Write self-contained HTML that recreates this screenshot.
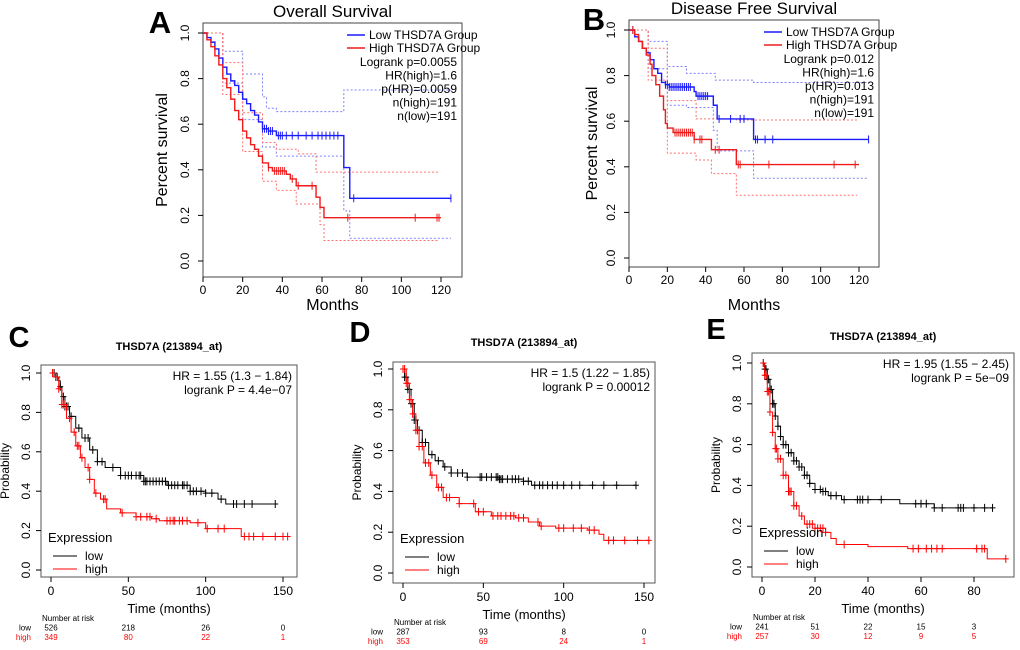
<!DOCTYPE html>
<html><head><meta charset="utf-8"><style>
body{margin:0;background:#fff}
svg{display:block;font-family:"Liberation Sans",Arial,sans-serif}
</style></head><body>
<svg id="fig" width="1020" height="650" viewBox="0 0 1020 650"></svg>
<script>
// ---------- DATA ----------
// Panel A (Overall Survival)
const aLowT=[0,2,4,6,8,10,12,14,16,18,20,22,24,26,28,30,33,37,71,74,125];
const aLowS=[1,0.98,0.96,0.93,0.89,0.85,0.82,0.79,0.77,0.74,0.71,0.69,0.66,0.64,0.61,0.58,0.57,0.55,0.41,0.275,0.275];
const aHighT=[0,2,4,6,8,10,12,14,16,18,20,22,24,26,28,30,33,35,42,44,47,57,59,61,120];
const aHighS=[1,0.97,0.94,0.9,0.86,0.8,0.76,0.71,0.66,0.62,0.57,0.54,0.51,0.49,0.46,0.43,0.41,0.395,0.38,0.36,0.33,0.28,0.235,0.19,0.19];
const aLowUpT=[0,10,20,30,32,37,71,125], aLowUpS=[1,0.92,0.82,0.72,0.67,0.655,0.75,0.745];
const aLowLoT=[0,10,20,30,37,71,74,125], aLowLoS=[1,0.78,0.62,0.5,0.46,0.22,0.1,0.1];
const aHighUpT=[0,10,20,30,37,48,57,119], aHighUpS=[1,0.87,0.65,0.52,0.49,0.47,0.39,0.39];
const aHighLoT=[0,10,20,30,37,47,59,61,119], aHighLoS=[1,0.73,0.48,0.35,0.31,0.25,0.16,0.09,0.09];
const aLowCens=[30,31,32,33,34,35,38,39,40,42,45,48,52,55,58,60,62,64,66,68,76,125];
const aHighCens=[33,36,37,38,39,40,41,45,48,55,73,107,118,119];
// Panel B (Disease Free Survival)
const bLowT=[0,3,5,7,9,11,13,15,17,19,21,34,35,44,46,65,125];
const bLowS=[1,0.97,0.95,0.92,0.9,0.87,0.83,0.81,0.77,0.76,0.75,0.73,0.71,0.67,0.61,0.52,0.52];
const bHighT=[0,3,5,7,9,11,12,14,16,18,19,20,23,34,43,56,120];
const bHighS=[1,0.98,0.95,0.92,0.89,0.85,0.8,0.76,0.71,0.65,0.59,0.57,0.55,0.52,0.475,0.41,0.41];
const bLowUpT=[0,10,20,30,45,65,125], bLowUpS=[1,0.95,0.84,0.81,0.78,0.77,0.77];
const bLowLoT=[0,10,20,30,44,46,65,125], bLowLoS=[1,0.83,0.67,0.66,0.56,0.47,0.35,0.35];
const bHighUpT=[0,10,20,35,56,119], bHighUpS=[1,0.92,0.69,0.61,0.605,0.605];
const bHighLoT=[0,10,20,35,43,56,119], bHighLoS=[1,0.78,0.46,0.43,0.37,0.275,0.275];
const bLowCens=[2,19,20,21,22,23,24,25,26,27,28,29,30,31,32,36,37,38,39,40,41,47,53,58,60,66,67,71,75,125];
const bHighCens=[2,24,25,26,27,28,29,30,31,32,33,34,37,38,45,47,57,58,73,107,118];
// Panel C
const cLowT=[0,3,5,6,7,9,12,16,20,25,30,35,45,60,75,90,100,108,113,145];
const cLowS=[1,0.98,0.96,0.93,0.88,0.83,0.78,0.72,0.67,0.61,0.55,0.52,0.48,0.45,0.43,0.4,0.39,0.36,0.335,0.335];
const cHighT=[0,3,5,7,10,13,16,19,22,25,28,32,36,45,55,65,70,90,100,123,153];
const cHighS=[1,0.98,0.92,0.84,0.77,0.7,0.63,0.57,0.52,0.46,0.39,0.36,0.31,0.29,0.27,0.26,0.25,0.24,0.21,0.17,0.17];
const cLowCens=[2,4,6,8,9,10,11,13,18,22,24,27,30,33,40,45,48,50,52,55,57,58,60,61,62,64,66,68,70,72,74,76,78,80,82,85,86,88,90,92,94,97,100,104,110,118,120,125,130,145];
const cHighCens=[1,3,5,7,8,9,12,15,17,18,20,24,25,29,34,35,46,55,58,62,64,68,75,77,79,80,83,85,88,95,101,108,112,125,128,131,137,145,150,153];
// Panel D
const dLowT=[0,1,3,5,7,9,12,16,20,25,30,40,60,75,80,145];
const dLowS=[1,0.96,0.9,0.83,0.75,0.7,0.64,0.58,0.55,0.52,0.49,0.47,0.46,0.45,0.43,0.43];
const dHighT=[0,2,4,6,8,10,13,17,21,25,35,45,55,70,78,85,95,115,122,125,153];
const dHighS=[1,0.93,0.85,0.78,0.7,0.62,0.54,0.48,0.42,0.37,0.34,0.3,0.28,0.27,0.25,0.23,0.22,0.21,0.19,0.16,0.16];
const dLowCens=[1,2,3,4,5,6,7,8,9,10,12,14,18,22,26,30,34,37,40,48,49,52,55,58,59,60,61,62,65,68,70,72,75,78,82,85,87,90,93,96,100,105,110,118,125,133,145];
const dHighCens=[0,1,2,3,4,5,6,8,9,10,12,14,16,18,22,24,27,29,35,44,47,50,56,59,61,64,67,69,72,75,84,86,97,100,106,111,116,119,128,131,138,146,153];
// Panel E
const eLowT=[0,1,2,3,4,5,6,7,8,10,12,14,16,18,20,23,25,30,50,52,65,87];
const eLowS=[1,0.97,0.92,0.87,0.8,0.74,0.69,0.64,0.6,0.56,0.52,0.49,0.45,0.41,0.38,0.37,0.35,0.33,0.33,0.31,0.29,0.29];
const eHighT=[0,1,2,3,4,5,6,8,10,12,14,16,20,24,26,28,40,55,84,85,92];
const eHighS=[1,0.94,0.86,0.76,0.66,0.58,0.53,0.45,0.37,0.3,0.25,0.21,0.19,0.17,0.14,0.11,0.1,0.09,0.09,0.04,0.04];
const eLowCens=[0.5,1,1.5,2,2.5,3,3.5,4,4.5,5,6,7,8,9,10,11,12,13,14,15,16,17,18,20,22,23,24,26,28,31,36,37,38,40,45,58,60,62,65,68,74,75,76,80,84,87];
const eHighCens=[0.5,1,1.5,2,2.5,3,4,5,5.5,6,7,8,9,10,10.5,11,12,13,15,17,18,19,20,21,22,23,24,31,57,59,62,64,66,68,81,83,84,92];

// ---------- RENDER ----------
const NS='http://www.w3.org/2000/svg';
const svg=document.getElementById('fig');
function mk(tag,attrs,parent,text){
  const e=document.createElementNS(NS,tag);
  for(const k in attrs)e.setAttribute(k,attrs[k]);
  if(text!==undefined)e.textContent=text;
  (parent||svg).appendChild(e);return e;
}
function txt(x,y,s,size,opts,parent,name){
  opts=opts||{};
  const e=mk('text',{x:x,y:y,'font-size':size,'text-anchor':opts.anchor||'middle',fill:opts.fill||'#000','font-weight':opts.bold?'bold':'normal'},parent,s);
  if(opts.rot)e.setAttribute('transform','rotate(-90 '+x+' '+y+')');
  
  
  return e;
}
function stepAt(T,S,t){let v=S[0];for(let i=0;i<T.length;i++){if(T[i]<=t)v=S[i];}return v;}

function panel(c){
  const g=mk('g',{});
  
  
  const X=t=>c.x0+(t/c.xmax)*(c.x1-c.x0);
  const Y=s=>c.y0+(1-s)*(c.y1-c.y0);
  const box=mk('rect',{x:c.bl,y:c.bt,width:c.br-c.bl,height:c.bb-c.bt,fill:'none',stroke:c.boxColor||'#444','stroke-width':1},g);
  
  
  [0,0.2,0.4,0.6,0.8,1.0].forEach(v=>{
    const l=mk('line',{x1:c.bl,x2:c.bl-5,y1:Y(v),y2:Y(v),stroke:'#000'},g);
    
    
    txt(c.bl-(c.ytOff||10),Y(v),v.toFixed(1),c.tick,{rot:true},g,'y-tick-label');
  });
  c.xticks.forEach(v=>{
    const l=mk('line',{x1:X(v),x2:X(v),y1:c.bb,y2:c.bb+5,stroke:'#000'},g);
    
    
    txt(X(v),c.bb+c.tick+(c.xtOff||6),String(v),c.tick,{},g,'x-tick-label');
  });
  c.series.forEach(s=>{
    let d='M'+X(s.T[0])+' '+Y(s.S[0]);
    for(let i=1;i<s.T.length;i++){d+=' H'+X(s.T[i])+' V'+Y(s.S[i]);}
    const p=mk('path',{d:d,fill:'none',stroke:s.color,'stroke-width':s.w||1.4,'stroke-dasharray':s.dash||'none',opacity:s.op||1},g);
    
    
    if(s.cens){
      s.cens.forEach(t=>{
        const cx=X(t),cy=Y(stepAt(s.T,s.S,t));
        const m=mk('path',{d:'M'+cx+' '+(cy-4)+' V'+(cy+4)+(c.plus?' M'+(cx-3)+' '+cy+' H'+(cx+3):''),stroke:s.color,'stroke-width':1,fill:'none'},g);
        
        
      });
    }
  });
  return {g,X,Y};
}

function gepia(c,stats){
  c.ytOff=14;c.xtOff=5;
  const P=panel(c);
  txt((c.bl+c.br)/2,c.bt-6,c.title,17,{},P.g,'chart-title');
  txt(c.letterX,c.letterY,c.letter,31,{bold:true},P.g,'panel-letter');
  txt((c.bl+c.br)/2,c.bb+c.xtitleOff,'Months',16,{},P.g,'x-axis-title');
  txt(c.bl-c.ytitleOff,(c.bt+c.bb)/2,'Percent survival',16,{rot:true},P.g,'y-axis-title');
  const lx=c.br-5;
  let l=mk('line',{x1:lx-110,x2:lx-92,y1:c.bt+12,y2:c.bt+12,stroke:'#1a1aff','stroke-width':1.5},P.g);
  
  l=mk('line',{x1:lx-110,x2:lx-92,y1:c.bt+25,y2:c.bt+25,stroke:'#f01a1a','stroke-width':1.5},P.g);
  
  txt(lx-88,c.bt+16,'Low THSD7A Group',12,{anchor:'start'},P.g,'legend-entry-low');
  txt(lx-88,c.bt+29,'High THSD7A Group',12,{anchor:'start'},P.g,'legend-entry-high');
  stats.forEach((s,i)=>txt(lx,c.bt+43+i*13.5,s,12,{anchor:'end'},P.g,'stat-text'));
}
const blue='#1a1aff',red='#f01a1a',lblue='#8080ff',lred='#ff7070';
gepia({name:'panel-a-overall-survival',bl:203,br:462,bt:23,bb:277,x0:203,x1:441,xmax:120,y0:33,y1:261,tick:12,xticks:[0,20,40,60,80,100,120],
  title:'Overall Survival',letter:'A',letterX:160,letterY:33,xtitleOff:33,ytitleOff:36,
  series:[
    {name:'low-upper-ci',T:aLowUpT,S:aLowUpS,color:lblue,dash:'2,2',w:1},
    {name:'low-lower-ci',T:aLowLoT,S:aLowLoS,color:lblue,dash:'2,2',w:1},
    {name:'high-upper-ci',T:aHighUpT,S:aHighUpS,color:lred,dash:'2,2',w:1},
    {name:'high-lower-ci',T:aHighLoT,S:aHighLoS,color:lred,dash:'2,2',w:1},
    {name:'low-thsd7a-curve',T:aLowT,S:aLowS,color:blue,cens:aLowCens},
    {name:'high-thsd7a-curve',T:aHighT,S:aHighS,color:red,cens:aHighCens}]},
  ['Logrank p=0.0055','HR(high)=1.6','p(HR)=0.0059','n(high)=191','n(low)=191']);
gepia({name:'panel-b-disease-free-survival',bl:629,br:879,bt:20,bb:267,x0:629,x1:859,xmax:120,y0:30,y1:258,tick:12,xticks:[0,20,40,60,80,100,120],
  title:'Disease Free Survival',letter:'B',letterX:594,letterY:30,xtitleOff:43,ytitleOff:32,
  series:[
    {name:'low-upper-ci',T:bLowUpT,S:bLowUpS,color:lblue,dash:'2,2',w:1},
    {name:'low-lower-ci',T:bLowLoT,S:bLowLoS,color:lblue,dash:'2,2',w:1},
    {name:'high-upper-ci',T:bHighUpT,S:bHighUpS,color:lred,dash:'2,2',w:1},
    {name:'high-lower-ci',T:bHighLoT,S:bHighLoS,color:lred,dash:'2,2',w:1},
    {name:'low-thsd7a-curve',T:bLowT,S:bLowS,color:blue,cens:bLowCens},
    {name:'high-thsd7a-curve',T:bHighT,S:bHighS,color:red,cens:bHighCens}]},
  ['Logrank p=0.012','HR(high)=1.6','p(HR)=0.013','n(high)=191','n(low)=191']);

function kmp(c){
  c.plus=true;c.boxColor='#555';c.ytOff=11;
  const P=panel(c);
  txt((c.bl+c.br)/2,c.titleY,'THSD7A (213894_at)',11,{bold:true},P.g,'chart-title');
  txt(c.letterX,c.letterY,c.letter,29,{bold:true},P.g,'panel-letter');
  txt((c.bl+c.br)/2,c.bb+36,'Time (months)',13,{},P.g,'x-axis-title');
  txt(c.ylabX,(c.bt+c.bb)/2,'Probability',12,{rot:true},P.g,'y-axis-title');
  txt(c.br-5,c.bt+15,c.hr,12,{anchor:'end'},P.g,'hazard-ratio');
  txt(c.br-5,c.bt+29,c.lr,12,{anchor:'end'},P.g,'logrank-p');
  const ly=c.legY;
  txt(c.bl+7,ly,'Expression',13,{anchor:'start'},P.g,'legend-title');
  let l=mk('line',{x1:c.bl+12,x2:c.bl+36,y1:ly+14,y2:ly+14,stroke:'#000'},P.g);
  
  l=mk('line',{x1:c.bl+12,x2:c.bl+36,y1:ly+27,y2:ly+27,stroke:'#f00'},P.g);
  
  txt(c.bl+44,ly+18,'low',12,{anchor:'start'},P.g,'legend-entry-low');
  txt(c.bl+44,ly+31,'high',12,{anchor:'start'},P.g,'legend-entry-high');
  txt(c.X0risk,c.riskY,'Number at risk',8,{anchor:'start'},P.g,'risk-table-title');
  txt(c.rowLabX,c.riskY+9.5,'low',8,{anchor:'end'},P.g,'risk-row-label-low');
  txt(c.rowLabX,c.riskY+19,'high',8,{anchor:'end',fill:'#f00'},P.g,'risk-row-label-high');
  c.riskT.forEach((t,i)=>{
    txt(P.X(t),c.riskY+9.5,String(c.riskLow[i]),8,{},P.g,'risk-count-low');
    txt(P.X(t),c.riskY+19,String(c.riskHigh[i]),8,{fill:'#f00'},P.g,'risk-count-high');
  });
}
const cRiskT=[0,50,100,150], cRiskLow=[526,218,26,0], cRiskHigh=[349,80,22,1];
const dRiskT=[0,50,100,150], dRiskLow=[287,93,8,0], dRiskHigh=[353,69,24,1];
const eRiskT=[0,20,40,60,80], eRiskLow=[241,51,22,15,3], eRiskHigh=[257,30,12,9,5];
kmp({name:'panel-c-km',bl:41,br:297,bt:365,bb:577,x0:51,x1:283,xmax:150,y0:373,y1:570,tick:12,xticks:[0,50,100,150],
  titleY:350,letter:'C',letterX:19,letterY:347,ylabX:9,legY:542,hr:'HR = 1.55 (1.3 − 1.84)',lr:'logrank P = 4.4e−07',
  X0risk:42,riskY:621,rowLabX:31,riskT:cRiskT,riskLow:cRiskLow,riskHigh:cRiskHigh,
  series:[{name:'low-expression-curve',T:cLowT,S:cLowS,color:'#000',w:1,cens:cLowCens},
          {name:'high-expression-curve',T:cHighT,S:cHighS,color:'#f00',w:1,cens:cHighCens}]});
kmp({name:'panel-d-km',bl:393,br:655,bt:362,bb:583,x0:403,x1:644,xmax:150,y0:369,y1:573,tick:12,xticks:[0,50,100,150],
  titleY:346,letter:'D',letterX:360,letterY:342,ylabX:361,legY:543,hr:'HR = 1.5 (1.22 − 1.85)',lr:'logrank P = 0.00012',
  X0risk:394,riskY:625,rowLabX:383,riskT:dRiskT,riskLow:dRiskLow,riskHigh:dRiskHigh,
  series:[{name:'low-expression-curve',T:dLowT,S:dLowS,color:'#000',w:1,cens:dLowCens},
          {name:'high-expression-curve',T:dHighT,S:dHighS,color:'#f00',w:1,cens:dHighCens}]});
kmp({name:'panel-e-km',bl:752,br:1014,bt:353,bb:577,x0:762,x1:974,xmax:80,y0:363,y1:567,tick:12,xticks:[0,20,40,60,80],
  titleY:340,letter:'E',letterX:716,letterY:339,ylabX:720,legY:537,hr:'HR = 1.95 (1.55 − 2.45)',lr:'logrank P = 5e−09',
  X0risk:753,riskY:620,rowLabX:742,riskT:eRiskT,riskLow:eRiskLow,riskHigh:eRiskHigh,
  series:[{name:'low-expression-curve',T:eLowT,S:eLowS,color:'#000',w:1,cens:eLowCens},
          {name:'high-expression-curve',T:eHighT,S:eHighS,color:'#f00',w:1,cens:eHighCens}]});
</script>
</body></html>
